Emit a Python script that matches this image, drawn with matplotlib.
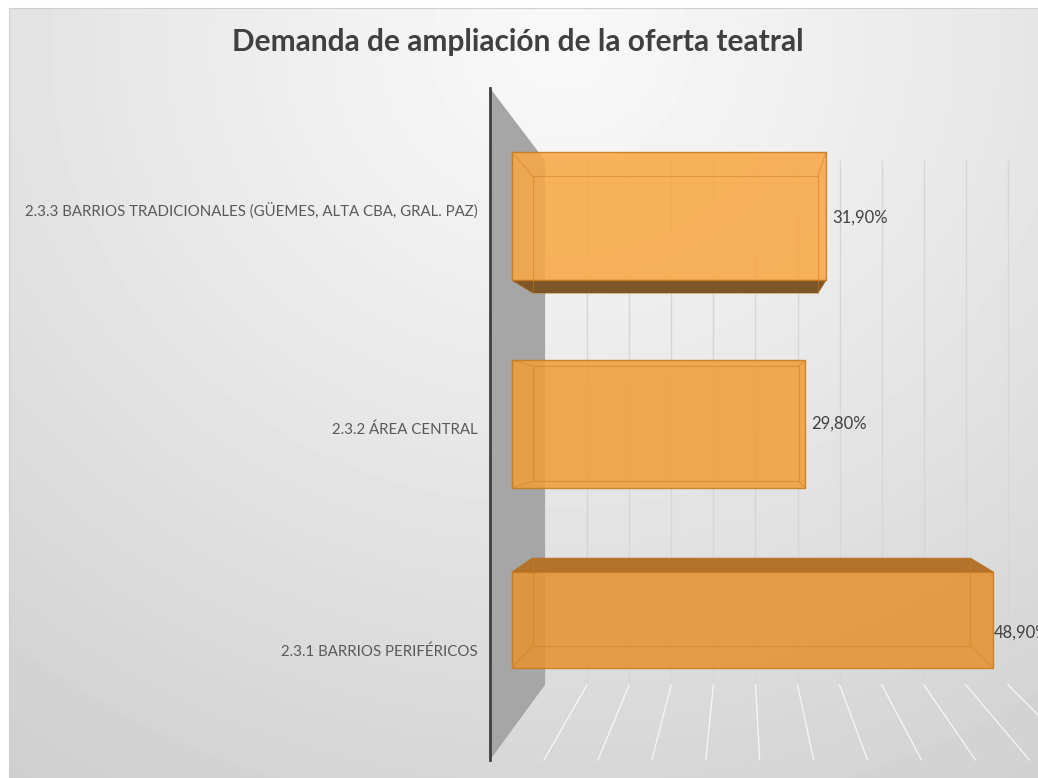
import numpy as np
import matplotlib.pyplot as plt
from matplotlib.patches import Polygon

plt.rcParams['font.family'] = ['Lato', 'DejaVu Sans']

# data (bottom -> top)
categories = ['2.3.1 BARRIOS PERIFÉRICOS',
              '2.3.2 ÁREA CENTRAL',
              '2.3.3 BARRIOS TRADICIONALES (GÜEMES, ALTA CBA, GRAL. PAZ)']
values = [48.9, 29.8, 31.9]
value_labels = ['48,90%', '29,80%', '31,90%']
grid_ticks = np.arange(5, 65, 5)

# styles
bar_pos = [0.0, 0.97, 2.0]
bar_h = [0.475, 0.63, 0.634]
bar_col = ['#E69332', '#F09E3A', '#F8A844']
label_shift = [-0.15, -0.02, 0.035]
value_shift = [-0.06, 0.0, -0.01]
value_pad = [0.1, 0.6, 0.6]

# fake perspective: vanishing point and depth factors
VX, VY = 23.2, 1.0
K_FRONT, K_BACK, K_BAR = 1.0965, 0.855, 0.91
Y_LOW, Y_HIGH = -0.544, 2.49


def proj(x, y, k):
    return VX + k * (x - VX), VY + k * (y - VY)


W, H = 1038, 778
fig = plt.figure(figsize=(W / 100, H / 100), dpi=100, facecolor='white')

# background gradient
bg = fig.add_axes([9 / W, 0, 1 - 9 / W, 1 - 8 / H], zorder=0)
yy, xx = np.mgrid[0:770, 0:1029]
d = np.hypot((xx - 551) * 0.9, yy - 40) / 905
bg.imshow(0.975 - 0.17 * d ** 1.1, cmap='gray', vmin=0, vmax=1, aspect='auto')
bg.set_xticks([])
bg.set_yticks([])
for s in ['right', 'bottom']:
    bg.spines[s].set_visible(False)
for s in ['left', 'top']:
    bg.spines[s].set_color('#CFCFCF')

ax = fig.add_axes([490 / W, 1 - 760 / H, 1 - 490 / W, (760 - 88) / H], zorder=1)
ax.patch.set_alpha(0)
ax.set_xlim(-2.236, 53.455)
ax.set_ylim(-0.693, 2.634)

# side wall
wall = [proj(0, Y_HIGH, K_FRONT), proj(0, Y_HIGH, K_BACK),
        proj(0, Y_LOW, K_BACK), proj(0, Y_LOW, K_FRONT)]
ax.add_patch(Polygon(wall, closed=True, facecolor='#A6A6A6', edgecolor='none',
                     zorder=1, clip_on=False))

# back wall and floor gridlines
for v in grid_ticks:
    x0, y0 = proj(v, Y_LOW, K_BACK)
    x1, y1 = proj(v, Y_HIGH, K_BACK)
    ax.plot([x0, x1], [y0, y1], color='#D6D6D6', lw=1, zorder=1, clip_on=False)
    x2, y2 = proj(v, Y_LOW, K_FRONT)
    ax.plot([x0, x2], [y0, y2], color='white', lw=0.9, alpha=0.8, zorder=1, clip_on=False)

# bars
for i, v in enumerate(values):
    yc, h = bar_pos[i], bar_h[i]
    top, bot = yc + h / 2, yc - h / 2
    # back rectangle edges (seen through)
    bl = proj(0, bot, K_BAR)
    br = proj(v, bot, K_BAR)
    tr = proj(v, top, K_BAR)
    tl = proj(0, top, K_BAR)
    if bot > VY:
        ax.add_patch(Polygon([(0, bot), (v, bot), br, bl], closed=True,
                             facecolor='#7D5527', edgecolor='#6A4620', lw=0.6, zorder=3))
    if top < VY:
        ax.add_patch(Polygon([(0, top), (v, top), tr, tl], closed=True,
                             facecolor='#B2742C', edgecolor='#A86A20', lw=0.6, zorder=3))
    ax.barh(yc, v, height=h, color=bar_col[i], alpha=0.88, edgecolor='#C87A1E',
            linewidth=1, zorder=4)
    ax.add_patch(Polygon([bl, br, tr, tl], closed=True, facecolor='none',
                         edgecolor='#C97C22', lw=0.8, alpha=0.5, zorder=5))
    for (xa, ya), (xb, yb) in [((0, bot), bl), ((v, bot), br), ((v, top), tr), ((0, top), tl)]:
        ax.plot([xa, xb], [ya, yb], color='#C97C22', lw=0.8, alpha=0.5, zorder=5)
    ax.text(v + value_pad[i], yc + value_shift[i], value_labels[i], fontsize=12,
            color='#404040', va='center', ha='left', zorder=6, clip_on=False)

ax.set_yticks(np.array(bar_pos) + np.array(label_shift))
ax.set_yticklabels(categories, fontsize=10.8, color='#595959')
ax.tick_params(axis='y', length=0, pad=9)
ax.set_xticks([])
for s in ['right', 'top', 'bottom']:
    ax.spines[s].set_visible(False)
ax.spines['left'].set_color('#404040')
ax.spines['left'].set_linewidth(2)
ax.spines['left'].set_zorder(6)

fig.text(0.499, 1 - 42 / H, 'Demanda de ampliación de la oferta teatral',
         fontsize=21.5, fontweight='bold', color='#404040', ha='center', va='center')

fig.savefig('out.png', dpi=100, facecolor='white')
